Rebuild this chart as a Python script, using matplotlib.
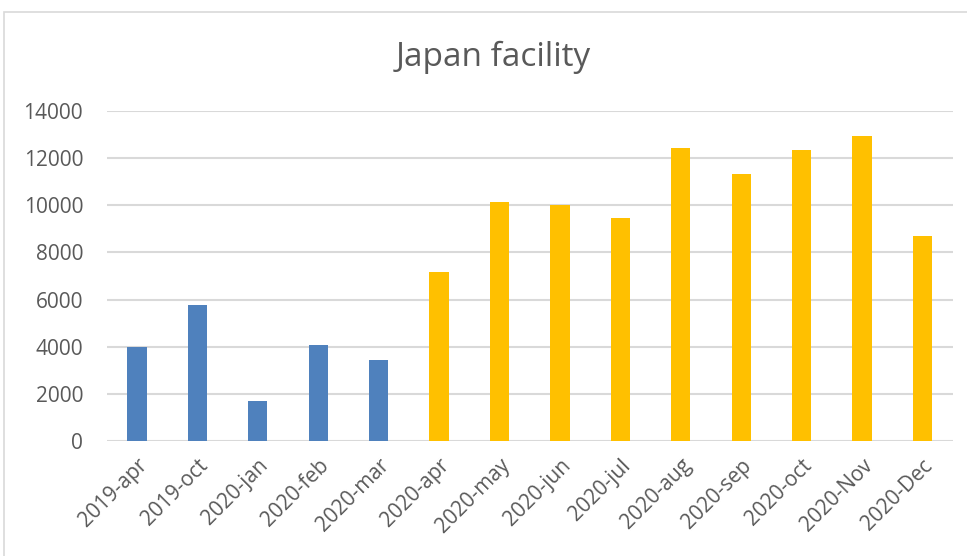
import matplotlib.pyplot as plt
from matplotlib.patches import Rectangle

plt.rcParams['font.family'] = ['Open Sans', 'DejaVu Sans']

pre_months = ['2019-apr', '2019-oct', '2020-jan', '2020-feb', '2020-mar']
pre_values = [3980, 5760, 1680, 4080, 3430]
post_months = ['2020-apr', '2020-may', '2020-jun', '2020-jul', '2020-aug',
               '2020-sep', '2020-oct', '2020-Nov', '2020-Dec']
post_values = [7190, 10150, 10020, 9470, 12440, 11340, 12350, 12950, 8710]
y_ticks = [0, 2000, 4000, 6000, 8000, 10000, 12000, 14000]

grey = '#595959'

fig = plt.figure(figsize=(9.67, 5.56), dpi=100)
ax = fig.add_axes([0.1104, 0.2068, 0.8748, 0.5936])

# chart border like the spreadsheet chart area
fig.patches.append(Rectangle((4 / 967, -0.01), 1.0, 1 - 12 / 556 + 0.01,
                             transform=fig.transFigure, fill=False,
                             edgecolor='#D9D9D9', linewidth=1.2))

months = pre_months + post_months
x_pre = list(range(len(pre_months)))
x_post = list(range(len(pre_months), len(months)))

ax.bar(x_pre, pre_values, width=0.32, color='#4F81BD', zorder=3)
ax.bar(x_post, post_values, width=0.32, color='#FFC000', zorder=3)

ax.set_xlim(-0.5, len(months) - 0.5)
ax.set_ylim(0, 14000)
ax.set_yticks(y_ticks)
ax.set_yticklabels([str(v) for v in y_ticks], fontsize=15, color=grey)
ax.set_xticks(range(len(months)))
ax.set_xticklabels(months, rotation=45, ha='right', rotation_mode='anchor',
                   fontsize=15, color=grey)
ax.tick_params(axis='both', length=0)
ax.tick_params(axis='y', pad=17)
ax.tick_params(axis='x', pad=10)

ax.grid(axis='y', color='#D9D9D9', linewidth=1.5, zorder=0)
for s in ax.spines.values():
    s.set_visible(False)

fig.text(0.51, 1 - 57 / 556, 'Japan facility', ha='center', va='center',
         fontsize=24, color=grey)

fig.savefig('out.png', dpi=100)
